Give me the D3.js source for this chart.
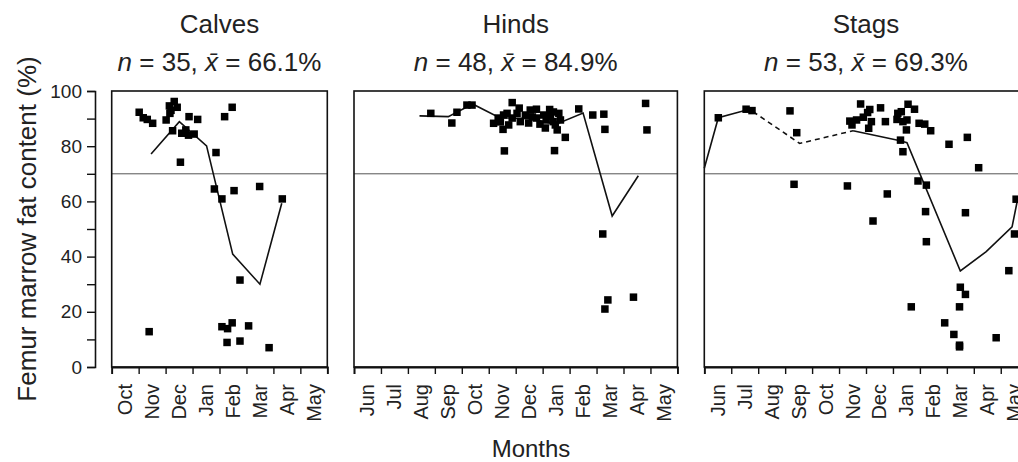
<!DOCTYPE html>
<html>
<head>
<meta charset="utf-8">
<script src="https://cdn.jsdelivr.net/npm/d3@7"></script>
<style>
  html, body { margin: 0; padding: 0; background: #fff; }
  svg { display: block; font-family: "Liberation Sans", Arial, sans-serif; }
</style>
</head>
<body>
<div id="chart"></div>
<script>
// #### data
// x is the position along the month axis (0 = start of first month shown)
const calfMonths = ['Oct', 'Nov', 'Dec', 'Jan', 'Feb', 'Mar', 'Apr', 'May'];
const yearMonths = ['Jun', 'Jul', 'Aug', 'Sep', 'Oct', 'Nov', 'Dec', 'Jan', 'Feb', 'Mar', 'Apr', 'May'];
const yTicks = [0, 20, 40, 60, 80, 100];
const threshold = 70;

const panelTitles = ['Calves', 'Hinds', 'Stags'];
const panelN = [35, 48, 53];
const panelMean = ['66.1', '84.9', '69.3'];

const calfX = [1.02, 1.17, 1.32, 1.52, 2.02, 2.16, 2.14, 2.32, 2.43, 2.26, 2.87, 3.19, 4.19, 4.47, 2.60, 2.75, 3.06, 3.87,
  2.55, 3.81, 4.09, 4.54, 5.49, 6.33, 4.76, 1.39, 4.09, 4.30, 4.47, 5.08, 4.28, 4.76, 5.84, 2.20, 2.85];
const calfY = [92.3, 90.3, 89.7, 88.3, 89.5, 91.9, 94.6, 96.2, 94.1, 85.6, 90.7, 89.7, 90.7, 94.1, 84.7, 85.9, 84.4, 77.7,
  74.2, 64.5, 60.9, 63.9, 65.4, 60.9, 31.5, 12.8, 14.6, 13.9, 16.0, 14.9, 8.9, 9.4, 7.0, 93.0, 84.0];
const calfLineX = [1.46, 2.51, 3.52, 4.49, 5.50, 6.31];
const calfLineY = [77.2, 88.9, 80.1, 40.9, 30.0, 59.3];

const hindX = [2.85, 3.63, 3.82, 4.19, 4.38, 5.87, 5.58, 7.44, 8.34, 8.86, 9.27, 9.31, 10.82, 10.87, 9.23, 9.42, 9.31, 10.37,
  5.18, 5.53, 5.55, 5.74, 5.68, 5.35, 6.05, 6.17, 6.36, 6.48, 6.77, 6.77, 6.90, 7.04, 7.26, 7.29, 7.39, 7.47, 7.60, 7.54,
  7.84, 5.87, 6.54, 7.13, 7.40, 7.66, 6.62, 6.13, 7.10, 5.43];
const hindY = [91.9, 88.4, 92.3, 94.9, 94.9, 95.8, 78.3, 78.4, 93.5, 91.3, 91.6, 86.1, 95.5, 85.9, 48.2, 24.3, 21.0, 25.3,
  88.3, 86.1, 91.3, 87.7, 91.9, 90.2, 91.9, 88.9, 91.3, 88.4, 93.4, 90.2, 88.0, 91.3, 93.3, 90.9, 88.9, 87.7, 91.9, 85.9,
  83.2, 90.2, 93.1, 89.5, 92.4, 89.5, 90.6, 93.8, 86.6, 88.8];
const hindLineX = [2.43, 3.50, 4.40, 5.40, 6.50, 7.50, 8.50, 9.58, 10.55];
const hindLineY = [91.0, 90.7, 95.3, 90.3, 90.0, 88.0, 92.0, 54.7, 69.3];

const stagX = [0.52, 1.55, 1.77, 3.18, 3.43, 3.33, 5.31, 5.40, 5.65, 5.48, 5.80, 6.14, 6.06, 6.54, 6.20, 6.10, 6.72, 6.26,
  6.79, 7.18, 7.31, 7.15, 7.37, 7.52, 7.50, 7.56, 7.80, 7.28, 7.37, 7.97, 8.18, 8.40, 7.68, 7.93, 8.24, 8.21, 8.24, 9.08,
  9.76, 10.18, 9.69, 8.92, 9.26, 9.47, 9.47, 9.50, 9.69, 9.47, 10.83, 11.30, 11.51, 11.57, 5.90];
const stagY = [90.3, 93.4, 92.9, 92.8, 84.9, 66.2, 65.6, 89.1, 89.5, 87.7, 95.3, 93.3, 92.2, 93.9, 88.9, 86.5, 88.9, 52.9,
  62.7, 91.9, 92.5, 89.7, 88.9, 89.5, 85.9, 95.2, 93.4, 82.2, 78.0, 88.3, 88.0, 85.6, 21.8, 67.4, 65.9, 56.3, 45.4, 80.7,
  83.2, 72.2, 55.9, 16.0, 11.8, 7.9, 7.3, 28.9, 26.3, 21.8, 10.6, 34.9, 48.2, 60.8, 90.5];
const stagLineX = [0, 0.52, 1.57, 1.81];
const stagLineY = [72.0, 90.3, 93.1, 92.5];
const stagDashX = [1.81, 3.54, 5.52];
const stagDashY = [92.5, 81.0, 85.6];
const stagLine2X = [5.52, 7.27, 7.52, 9.50, 10.46, 11.42, 11.62];
const stagLine2Y = [85.6, 82.0, 81.3, 34.8, 41.8, 50.8, 60.5];

// #### layout (hardcoded to the reference picture)
const width = 1018;
const height = 462;
const plotTop = 91;
const plotBottom = 367;
const monthStep = 26.95;

const zip = (xs, ys) => xs.map((x, i) => [x, ys[i]]);

const panels = [
  {
    left: 111.7, months: calfMonths,
    points: zip(calfX, calfY),
    solid: [zip(calfLineX, calfLineY)], dashed: [],
  },
  {
    left: 354, months: yearMonths,
    points: zip(hindX, hindY),
    solid: [zip(hindLineX, hindLineY)], dashed: [],
  },
  {
    left: 704.3, months: yearMonths,
    points: zip(stagX, stagY),
    solid: [zip(stagLineX, stagLineY), zip(stagLine2X, stagLine2Y)],
    dashed: [zip(stagDashX, stagDashY)],
  },
];

const svg = d3.select('#chart')
  .append('svg')
  .attr('width', width)
  .attr('height', height);

const y = d3.scaleLinear().domain([0, 100]).range([plotBottom, plotTop]);

// y axis, only on the left panel, set off from the box
svg.append('g')
  .attr('transform', 'translate(95,0)')
  .call(d3.axisLeft(y).tickValues(d3.range(0, 101, 10)).tickSize(8).tickPadding(5)
    .tickFormat(d => yTicks.includes(d) ? d : ''))
  .call(g => g.select('.domain').attr('stroke', '#111').attr('stroke-width', 1.6))
  .call(g => g.selectAll('.tick line').attr('stroke', '#111').attr('stroke-width', 1.4))
  .call(g => g.selectAll('.tick text')
    .attr('fill', '#222')
    .attr('font-size', '19px')
    .attr('font-family', '"Liberation Sans", Arial, sans-serif'));

svg.append('text')
  .attr('transform', `translate(36,${ (plotTop + plotBottom) / 2 }) rotate(-90)`)
  .attr('text-anchor', 'middle')
  .attr('font-size', '26px')
  .attr('fill', '#222')
  .text('Femur marrow fat content (%)');

panels.forEach((p, i) => {
  const n = p.months.length;
  const right = p.left + n * monthStep;
  const x = d3.scaleLinear().domain([0, n]).range([p.left, right]);
  const band = d3.scaleBand().domain(p.months).range([p.left, right]);
  const cx = (p.left + right) / 2;
  const g = svg.append('g');

  // titles
  g.append('text')
    .attr('x', cx).attr('y', 33)
    .attr('text-anchor', 'middle')
    .attr('font-size', '26px')
    .attr('fill', '#222')
    .text(panelTitles[i]);

  const sub = g.append('text')
    .attr('x', cx).attr('y', 71)
    .attr('text-anchor', 'middle')
    .attr('font-size', '26px')
    .attr('fill', '#222');
  sub.append('tspan').attr('font-style', 'italic').text('n');
  sub.append('tspan').text(` = ${ panelN[i] }, `);
  sub.append('tspan').attr('font-style', 'italic').text('x\u0304');
  sub.append('tspan').text(` = ${ panelMean[i] }%`);

  // 70% reference line
  g.append('line')
    .attr('x1', p.left).attr('x2', right)
    .attr('y1', y(threshold)).attr('y2', y(threshold))
    .attr('stroke', '#555')
    .attr('stroke-width', 1);

  // mean lines
  const line = d3.line().x(d => x(d[0])).y(d => y(d[1]));
  p.solid.forEach(seg => {
    g.append('path')
      .attr('d', line(seg))
      .attr('fill', 'none')
      .attr('stroke', '#111')
      .attr('stroke-width', 1.6);
  });
  p.dashed.forEach(seg => {
    g.append('path')
      .attr('d', line(seg))
      .attr('fill', 'none')
      .attr('stroke', '#111')
      .attr('stroke-width', 1.6)
      .attr('stroke-dasharray', '5,4');
  });

  // individual animals
  const s = 7.5;
  g.selectAll('rect.pt')
    .data(p.points)
    .enter().append('rect')
    .attr('class', 'pt')
    .attr('x', d => x(d[0]) - s / 2)
    .attr('y', d => y(d[1]) - s / 2)
    .attr('width', s)
    .attr('height', s)
    .attr('fill', '#000');

  // frame
  g.append('rect')
    .attr('x', p.left).attr('y', plotTop)
    .attr('width', right - p.left).attr('height', plotBottom - plotTop)
    .attr('fill', 'none')
    .attr('stroke', '#111')
    .attr('stroke-width', 1.6);

  // month ticks at month boundaries
  g.append('g')
    .attr('transform', `translate(0,${ plotBottom })`)
    .call(d3.axisBottom(x).tickValues(d3.range(0, n + 1)).tickSize(7).tickFormat(''))
    .call(a => a.select('.domain').attr('stroke', '#111').attr('stroke-width', 1.8))
    .call(a => a.selectAll('.tick line').attr('stroke', '#111').attr('stroke-width', 1.4));

  // month names centred in each month
  g.selectAll('text.month')
    .data(p.months)
    .enter().append('text')
    .attr('class', 'month')
    .attr('transform', d => `translate(${ band(d) + band.bandwidth() / 2 },384) rotate(-90)`)
    .attr('dy', '0.35em')
    .attr('text-anchor', 'end')
    .attr('font-size', '20px')
    .attr('fill', '#222')
    .text(d => d);
});

svg.append('text')
  .attr('x', 531).attr('y', 457)
  .attr('text-anchor', 'middle')
  .attr('font-size', '24px')
  .attr('fill', '#222')
  .text('Months');
</script>
</body>
</html>
